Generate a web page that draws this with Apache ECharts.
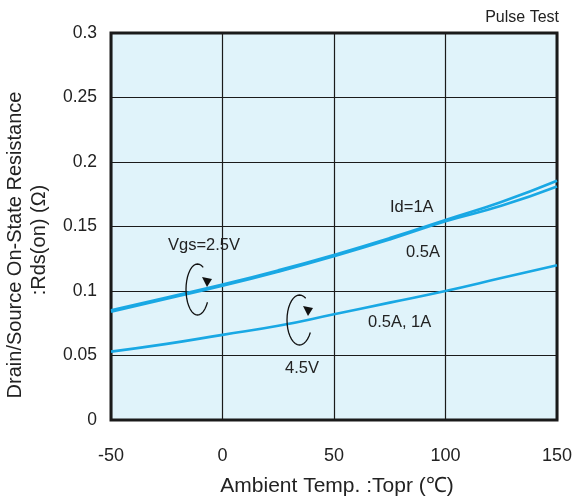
<!DOCTYPE html>
<html><head><meta charset="utf-8">
<script src="https://cdn.jsdelivr.net/npm/echarts@6/dist/echarts.min.js"></script>
<style>html,body{margin:0;padding:0;background:#fff}#c{width:576px;height:503px}</style>
</head><body><div id="c"></div>
<script>
var temps = [-50, -25, 0, 25, 50, 75, 100, 125, 150];
var vgs25_id1 = [0.085, 0.095, 0.105, 0.116, 0.128, 0.141, 0.155, 0.169, 0.1855];
var vgs25_id05 = [0.084, 0.094, 0.104, 0.115, 0.127, 0.140, 0.154, 0.166, 0.181];
var vgs45 = [0.053, 0.059, 0.066, 0.073, 0.082, 0.091, 0.100, 0.110, 0.120];
var xTicks = [-50, 0, 50, 100, 150];
var yTicks = [0, 0.05, 0.1, 0.15, 0.2, 0.25, 0.3];

function pairs(vals){ return temps.map(function(t,i){return [t, vals[i]];}); }
function loop(cx, cy, rx, ry){
  var pts = [];
  for (var a = -60; a >= -330; a -= 10) {
    var r = a * Math.PI / 180;
    pts.push([cx + rx * Math.cos(r), cy + ry * Math.sin(r)]);
  }
  return pts;
}
var font = 'Liberation Sans, Arial, sans-serif';
var ink = '#222';
var lineColor = '#19a8e4';
var chart = echarts.init(document.getElementById('c'));
var lineStyle = {color: lineColor, width: 2.6};
function label(txt, l, t){ return {type: 'text', left: l, top: t, z: 20, style: {text: txt, font: '16.5px ' + font, fill: ink}}; }
chart.setOption({
  animation: false,
  backgroundColor: '#fff',
  grid: {left: 111, right: 19, top: 33, bottom: 83, outerBoundsMode: 'none', containLabel: false,
         show: true, backgroundColor: '#e0f3fa', borderColor: '#1a1a1a', borderWidth: 3, z: 0},
  xAxis: {
    type: 'value', min: -50, max: 150, interval: 50,
    name: 'Ambient Temp. :Topr (℃)', nameLocation: 'middle', nameGap: 56,
    nameTextStyle: {fontFamily: font, fontSize: 21, color: ink, padding: [0, 0, 0, 6]},
    axisLine: {show: false}, axisTick: {show: false},
    axisLabel: {fontFamily: font, fontSize: 18, color: ink, margin: 27,
      formatter: function(v){ return xTicks.indexOf(v) >= 0 ? String(v) : ''; }},
    splitLine: {show: true, lineStyle: {color: '#1a1a1a', width: 1.2}}
  },
  yAxis: {
    type: 'value', min: 0, max: 0.3, interval: 0.05,
    axisLine: {show: false}, axisTick: {show: false},
    axisLabel: {fontFamily: font, fontSize: 17.5, color: ink, margin: 14,
      formatter: function(v){ var m = yTicks.filter(function(t){return Math.abs(t - v) < 1e-9;}); return m.length ? String(m[0]) : ''; }},
    splitLine: {show: true, lineStyle: {color: '#1a1a1a', width: 1.2}}
  },
  series: [
    {type: 'line', data: pairs(vgs25_id1), smooth: true, showSymbol: false, lineStyle: lineStyle},
    {type: 'line', data: pairs(vgs25_id05), smooth: true, showSymbol: false, lineStyle: lineStyle},
    {type: 'line', data: pairs(vgs45), smooth: true, showSymbol: false, lineStyle: lineStyle}
  ],
  graphic: [
    {type: 'text', x: 559, y: 10, z: 20, style: {text: 'Pulse Test', font: '16px ' + font, fill: ink, align: 'right'}},
    {type: 'text', x: 15, y: 245, rotation: Math.PI / 2, z: 20, style: {text: 'Drain/Source On-State Resistance', font: '20px ' + font, fill: ink, align: 'center', verticalAlign: 'middle'}},
    {type: 'text', x: 39, y: 240, rotation: Math.PI / 2, z: 20, style: {text: ':Rds(on) (Ω)', font: '20px ' + font, fill: ink, align: 'center', verticalAlign: 'middle'}},
    label('Id=1A', 390, 199),
    label('0.5A', 406, 244),
    label('Vgs=2.5V', 168, 237),
    label('0.5A, 1A', 368, 314),
    label('4.5V', 285, 360),
    {type: 'polyline', z: 20, shape: {points: loop(197.5, 289.5, 11.5, 25.5)}, style: {stroke: '#111', lineWidth: 1.3, fill: null}},
    {type: 'polygon', z: 20, shape: {points: [[202, 277], [212, 279], [207, 287]]}, style: {fill: '#111'}},
    {type: 'polyline', z: 20, shape: {points: loop(299.5, 320, 12.5, 25)}, style: {stroke: '#111', lineWidth: 1.3, fill: null}},
    {type: 'polygon', z: 20, shape: {points: [[303, 306], [313, 308], [308, 316]]}, style: {fill: '#111'}}
  ]
});
</script></body></html>
